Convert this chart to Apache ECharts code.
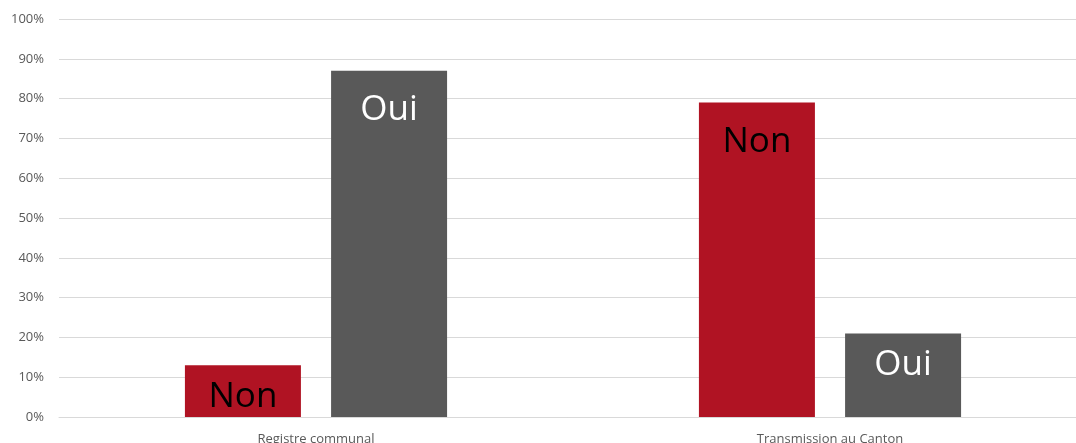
<!DOCTYPE html>
<html><head><meta charset="utf-8">
<script src="https://cdn.jsdelivr.net/npm/echarts@6/dist/echarts.min.js"></script>
<style>html,body{margin:0;padding:0;background:#fff}#c{width:1076px;height:443px}</style>
</head><body><div id="c"></div>
<script>
const categories = ['Registre communal', 'Transmission au Canton'];
const nonValues = [13, 79];
const ouiValues = [87, 21];
const yTicks = [0, 10, 20, 30, 40, 50, 60, 70, 80, 90, 100];

const chart = echarts.init(document.getElementById('c'));
const lblBase = {show: true, position: 'insideTop', fontFamily: 'Open Sans', fontSize: 35};
function dist(v){ return v < 30 ? 14 : 22; }
chart.setOption({
  animation: false,
  grid: {left: 59, top: 19, width: 1028, height: 398, outerBoundsMode: 'none', containLabel: false},
  xAxis: {
    type: 'category', data: categories,
    axisLine: {lineStyle: {color: '#d9d9d9'}},
    axisTick: {show: false},
    axisLabel: {color: '#595959', fontFamily: 'Open Sans', fontSize: 13, margin: 16}
  },
  yAxis: {
    type: 'value', min: yTicks[0], max: yTicks[yTicks.length-1], interval: 10,
    axisLine: {show: false}, axisTick: {show: false},
    splitLine: {lineStyle: {color: '#d9d9d9'}},
    axisLabel: {color: '#595959', fontFamily: 'Open Sans', fontSize: 13, margin: 15, formatter: '{value}%'}
  },
  series: [
    {name: 'Non', type: 'bar', barWidth: 116, barGap: '26%',
     itemStyle: {color: '#B01323'},
     data: nonValues.map(v => ({value: v, label: Object.assign({}, lblBase, {distance: dist(v), color: '#000', formatter: 'Non'})}))},
    {name: 'Oui', type: 'bar', barWidth: 116,
     itemStyle: {color: '#595959'},
     data: ouiValues.map(v => ({value: v, label: Object.assign({}, lblBase, {distance: dist(v), color: '#fff', formatter: 'Oui'})}))}
  ]
});
</script></body></html>
